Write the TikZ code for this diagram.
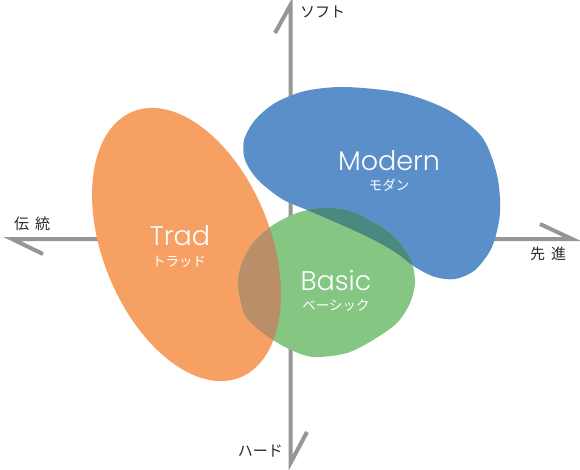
\documentclass[tikz,border=0pt]{standalone}
\usepackage{fontspec}
\setmainfont{Poppins Light}
\newfontfamily\jp{Noto Sans CJK JP}
\definecolor{orangec}{RGB}{247,160,100}
\definecolor{bluec}{RGB}{90,143,201}
\definecolor{greenc}{RGB}{133,199,130}
\definecolor{brownc}{RGB}{185,142,104}
\definecolor{tealc}{RGB}{74,137,128}
\definecolor{axisc}{RGB}{150,150,150}
\definecolor{labelc}{RGB}{40,40,40}
\tikzset{
  axisline/.style={draw=axisc,line width=4pt,line join=miter,line cap=butt},
  bigtext/.style={text=white,font=\fontsize{27}{30}\selectfont,inner sep=0pt,anchor=base},
  kanatext/.style={text=white,font=\jp\fontsize{13.5}{15}\selectfont,inner sep=0pt,text height=9pt,text depth=1pt},
  axislabel/.style={text=labelc,font=\jp\fontsize{15}{17}\selectfont,inner sep=0pt}
}
\def\orangepath{[rotate around={-68:(186.5,244.5)}] (186.5,244.5) ellipse [x radius=143.3, y radius=83.8]}
\def\bluepath{plot[smooth cycle] coordinates {(345,87) (402,93) (448,110) (482,137) (497,175) (500,213) (492,247) (475,270) (455,279) (435,277) (415,267) (395,252) (368,237) (335,222) (307,210) (282,199) (258,180) (245,160) (244,140) (255,120) (275,103) (305,91)}}
\def\greenpath{plot[smooth cycle] coordinates {(320,208) (347,210) (373,222) (390,233) (403,247) (412,263) (415,283) (410,303) (397,323) (373,340) (347,353) (313,357) (287,348) (263,333) (245,315) (238,285) (242,263) (253,243) (273,225) (297,213)}}
\begin{document}
\begin{tikzpicture}[x=1pt,y=-1pt]
\useasboundingbox (0,0) rectangle (580,469);
% axes
\coordinate (vtopbarb) at (275,33);
\coordinate (vtop) at (290.5,5);
\coordinate (vbot) at (290.5,463);
\coordinate (vbotbarb) at (307,432);
\coordinate (hleftbarb) at (43,254);
\coordinate (hleft) at (12,239);
\coordinate (hright) at (572,239);
\coordinate (hrightbarb) at (540,224);
\draw[axisline] (vtopbarb) -- (vtop) -- (vbot) -- (vbotbarb);
\draw[axisline] (hleftbarb) -- (hleft) -- (hright) -- (hrightbarb);
% blobs
\fill[orangec] \orangepath;
\fill[bluec] \bluepath;
\fill[greenc] \greenpath;
\begin{scope}
  \clip \orangepath;
  \fill[brownc] \greenpath;
\end{scope}
\begin{scope}
  \clip \bluepath;
  \fill[tealc] \greenpath;
\end{scope}
% labels
\node[bigtext] (modern) at (389,170) {Modern};
\node[kanatext] (modernk) at (389,186) {モダン};
\node[bigtext] (trad) at (180,245.5) {Trad};
\node[kanatext] (tradk) at (179,262) {トラッド};
\node[bigtext] (basic) at (336,290) {Basic};
\node[kanatext] (basick) at (336,306) {ベーシック};
% axis labels
\node[axislabel,anchor=west] (soft) at (300,12) {ソフト};
\node[axislabel,anchor=west] (dento) at (14,224) {伝\hspace{0.4em}統};
\node[axislabel,anchor=west] (sensin) at (530,254) {先\hspace{0.4em}進};
\node[axislabel,anchor=east] (hard) at (283,451) {ハード};
\end{tikzpicture}
\end{document}
